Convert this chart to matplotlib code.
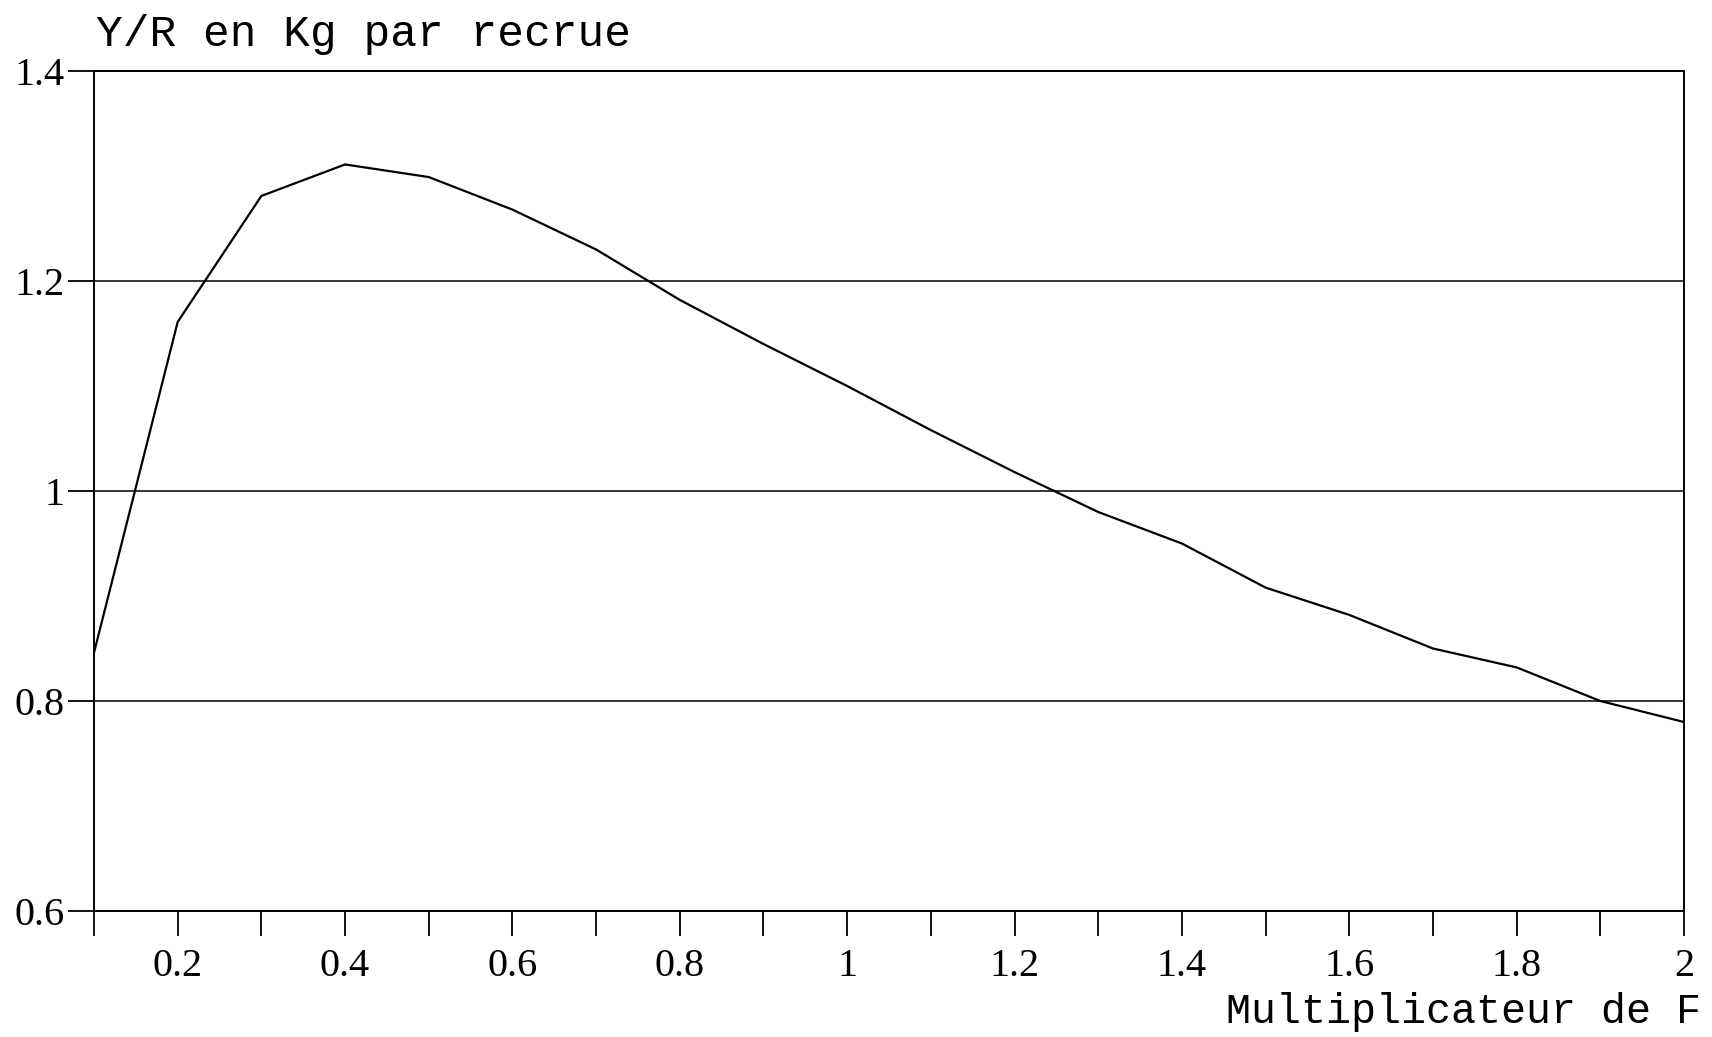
import matplotlib
matplotlib.use("Agg")
import matplotlib.pyplot as plt
from matplotlib.ticker import FixedLocator, FuncFormatter

# Data
f_mult = [0.1, 0.2, 0.3, 0.4, 0.5, 0.6, 0.7, 0.8, 0.9, 1.0,
          1.1, 1.2, 1.3, 1.4, 1.5, 1.6, 1.7, 1.8, 1.9, 2.0]
yr = [0.846, 1.161, 1.281, 1.311, 1.299, 1.268, 1.230, 1.182, 1.140, 1.100,
      1.058, 1.018, 0.980, 0.950, 0.908, 0.882, 0.850, 0.832, 0.800, 0.780]
x_major = [0.2, 0.4, 0.6, 0.8, 1.0, 1.2, 1.4, 1.6, 1.8, 2.0]
x_minor = [0.1, 0.3, 0.5, 0.7, 0.9, 1.1, 1.3, 1.5, 1.7, 1.9]
y_ticks = [0.6, 0.8, 1.0, 1.2, 1.4]
title_text = "Y/R en Kg par recrue"
xlabel_text = "Multiplicateur de F"

W, H = 1712, 1037
fig = plt.figure(figsize=(W / 100, H / 100), dpi=100)
ax = fig.add_axes([94 / W, 1 - 911 / H, (1684 - 94) / W, (911 - 71) / H])

ax.plot(f_mult, yr, color="black", lw=1.6, solid_joinstyle="miter")

ax.set_xlim(0.1, 2.0)
ax.set_ylim(0.6, 1.4)

ax.xaxis.set_major_locator(FixedLocator(x_major))
ax.xaxis.set_minor_locator(FixedLocator(x_minor))
ax.yaxis.set_major_locator(FixedLocator(y_ticks))
fmt = FuncFormatter(lambda v, p: f"{round(v, 2):g}")
ax.xaxis.set_major_formatter(fmt)
ax.yaxis.set_major_formatter(fmt)

tickfont = "Liberation Serif"
ax.tick_params(axis="x", which="both", direction="out", length=18, width=1.3,
               pad=9, labelsize=29, color="black")
ax.tick_params(axis="y", which="major", direction="out", length=19, width=1.3,
               pad=2, labelsize=29, color="black")
for lab in ax.get_xticklabels() + ax.get_yticklabels():
    lab.set_fontfamily(tickfont)

ax.grid(axis="y", color="black", lw=1.1)
for s in ax.spines.values():
    s.set_color("black")
    s.set_linewidth(1.4)

fig.text(96 / W, 1 - 46 / H, title_text, ha="left", va="baseline",
         fontsize=32, family="Liberation Mono")
fig.text(1701 / W, 1 - 1023 / H, xlabel_text, ha="right", va="baseline",
         fontsize=30, family="Liberation Mono")

fig.savefig("out.png", dpi=100, facecolor="white")
